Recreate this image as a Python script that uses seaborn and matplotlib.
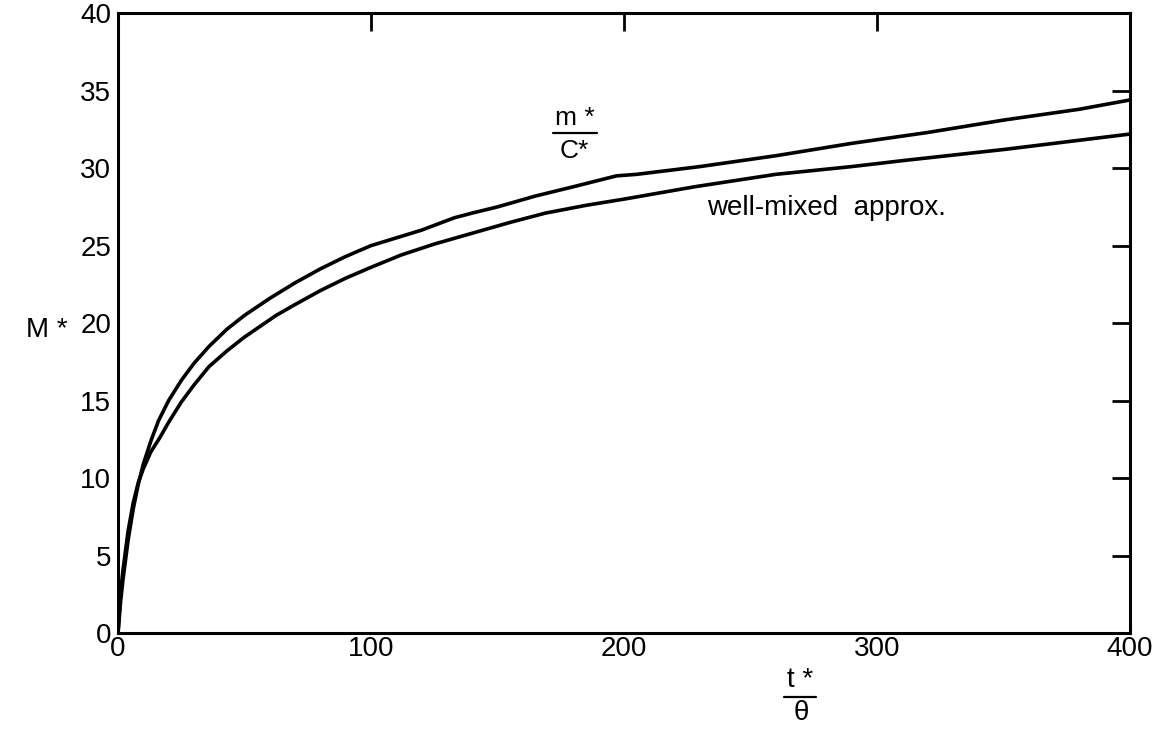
import matplotlib
matplotlib.use('Agg')
import matplotlib.pyplot as plt
import seaborn as sns
import pandas as pd

# values
t_upper = [0, 1, 2, 4, 6, 8, 10, 13, 16, 20, 25, 30, 36, 43, 50, 60, 70, 80, 90, 100,
           110, 120, 133, 140, 150, 165, 180, 197, 205, 215, 230, 260, 290, 320, 350, 380, 400]
m_upper = [0, 2.0, 3.5, 6.0, 8.0, 9.6, 10.9, 12.4, 13.7, 15.0, 16.3, 17.4, 18.5, 19.6, 20.5, 21.6, 22.6, 23.5, 24.3, 25.0,
           25.5, 26.0, 26.8, 27.1, 27.5, 28.2, 28.8, 29.5, 29.6, 29.8, 30.1, 30.8, 31.6, 32.3, 33.1, 33.8, 34.4]

t_lower = [0, 1, 2, 4, 6, 8, 10, 13, 16.5, 20, 25, 30, 36, 43, 50, 62.5, 70, 80, 90, 100,
           112, 125, 140, 155, 169, 185, 200, 228, 260, 290, 311, 350, 375, 400]
m_lower = [0, 2.6, 4.1, 6.6, 8.4, 9.7, 10.6, 11.7, 12.6, 13.6, 14.9, 16.0, 17.2, 18.2, 19.1, 20.5, 21.2, 22.1, 22.9, 23.6,
           24.4, 25.1, 25.8, 26.5, 27.1, 27.6, 28.0, 28.8, 29.6, 30.1, 30.5, 31.2, 31.7, 32.2]

x_ticks = [0, 100, 200, 300, 400]
y_ticks = [0, 5, 10, 15, 20, 25, 30, 35, 40]

df = pd.concat([
    pd.DataFrame({'t': t_upper, 'M': m_upper, 'curve': 'exact'}),
    pd.DataFrame({'t': t_lower, 'M': m_lower, 'curve': 'well-mixed'}),
])

sns.set_style('white')
plt.rcParams['font.family'] = ['Liberation Sans', 'DejaVu Sans']
plt.rcParams['text.color'] = 'black'

fig = plt.figure(figsize=(11.65, 7.31), dpi=100)
ax = fig.add_axes([0.1013, 0.134, 0.8687, 0.848])

sns.lineplot(data=df, x='t', y='M', hue='curve', palette=['black', 'black'],
             linewidth=2.6, legend=False, sort=False, estimator=None, ax=ax)

ax.set_xlim(0, 400)
ax.set_ylim(0, 40)
ax.set_xticks(x_ticks)
ax.set_yticks(y_ticks)
ax.set_xlabel('')
ax.set_ylabel('')

for s in ax.spines.values():
    s.set_visible(True)
    s.set_linewidth(2.2)
    s.set_color('black')

ax.tick_params(axis='both', direction='in', length=13, width=2, colors='black',
               labelsize=20, top=True, right=True, labeltop=False, labelright=False)
ax.tick_params(axis='x', pad=2)
ax.tick_params(axis='y', pad=5)

# curve labels
ax.text(0.432, 0.811, 'm *', transform=ax.transAxes, fontsize=19, ha='left', va='bottom')
ax.plot([0.430, 0.473], [0.806, 0.806], transform=ax.transAxes, color='black', lw=1.6, clip_on=False)
ax.text(0.436, 0.797, 'C*', transform=ax.transAxes, fontsize=19, ha='left', va='top')
ax.text(0.582, 0.685, 'well-mixed  approx.', transform=ax.transAxes, fontsize=20, ha='left', va='center')

# axis labels
fig.text(0.040, 0.549, 'M *', fontsize=20, ha='center', va='center')
fig.text(0.687, 0.052, 't *', fontsize=20, ha='center', va='bottom')
fig.add_artist(plt.Line2D([0.673, 0.700], [0.047, 0.047], color='black', lw=1.6))
fig.text(0.688, 0.043, 'θ', fontsize=20, ha='center', va='top')

fig.savefig('out.png', dpi=100)
